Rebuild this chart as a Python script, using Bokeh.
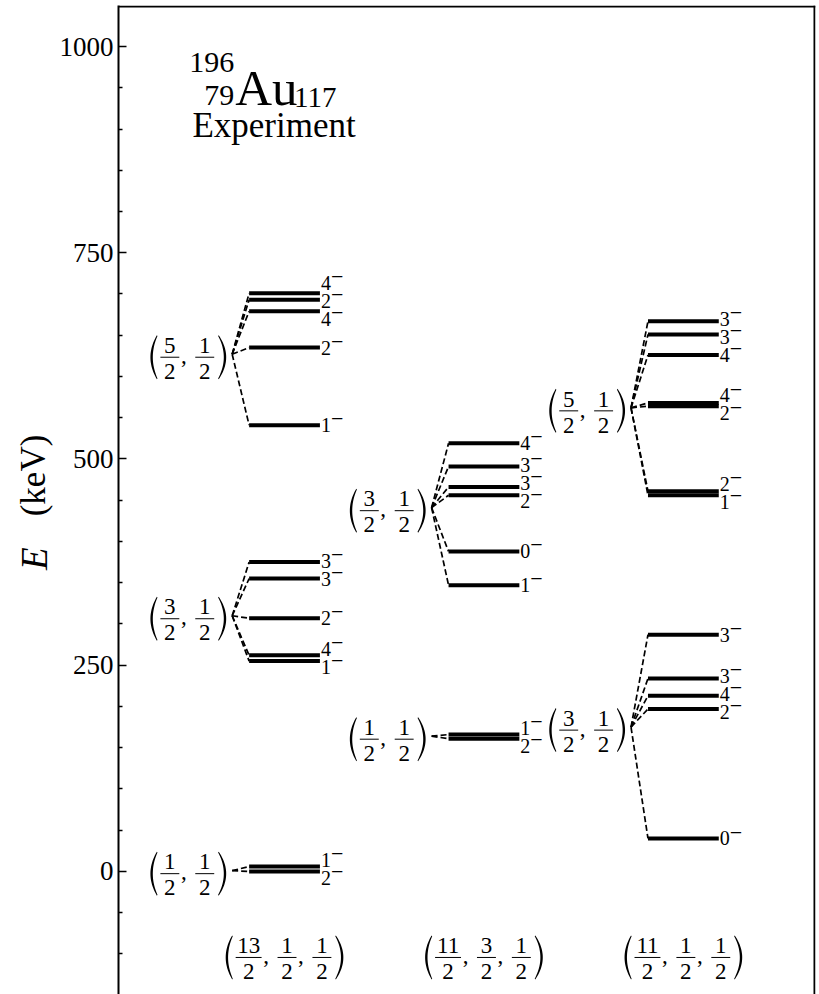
import math
from bokeh.plotting import figure
from bokeh.layouts import row
from bokeh.models import Range1d, FixedTicker, Span
from bokeh.core.properties import value
from bokeh.embed import file_html
from bokeh.resources import INLINE

# ---------------- data ----------------
column_numbers = [["13/2", "1/2", "1/2"], ["11/2", "3/2", "1/2"], ["11/2", "1/2", "1/2"]]
band_column = [0, 0, 0, 1, 1, 2, 2]
band_numbers = [["1/2", "1/2"], ["3/2", "1/2"], ["5/2", "1/2"],
                ["1/2", "1/2"], ["3/2", "1/2"],
                ["3/2", "1/2"], ["5/2", "1/2"]]
band_head = [1, 310, 627, 164, 441, 175, 562]
band_energies = [
    [0, 6],
    [375, 355, 307, 262, 255],
    [701, 693, 679, 635, 541],
    [166, 161],
    [519, 491, 466, 456, 388, 347],
    [287, 234, 213, 197, 40],
    [667, 651, 626, 568, 564, 461, 456],
]
band_spins = [
    [2, 1],
    [3, 3, 2, 4, 1],
    [4, 2, 4, 2, 1],
    [1, 2],
    [4, 3, 3, 2, 0, 1],
    [3, 3, 4, 2, 0],
    [3, 3, 4, 4, 2, 2, 1],
]
y_major_ticks = [0, 250, 500, 750, 1000]
y_minor_ticks = [-100, -50, 50, 100, 150, 200, 300, 350, 400, 450, 550, 600, 650, 700,
                 800, 850, 900, 950]
title_mass, title_z, title_sym, title_n = "196", "79", "Au", "117"
title_sub = "Experiment"
y_label_sym, y_label_unit = "E", "(keV)"

# ---------------- layout ----------------
FONT = "Liberation Serif"
TOTAL_W, H = 819, 994
LW = 56                       # width of the side panel holding the axis title
TOP = 5
AXIS_X = 116                  # page x of the left axis
BORDER_R = 4
W = TOTAL_W - LW
BORDER_L = AXIS_X - LW
FRAME_W = W - BORDER_L - BORDER_R
Y0, Y1 = -149.1, 1049.7
PXK = (H - TOP) / (Y1 - Y0)   # pixels per keV
COL_START = [131, 331, 531]   # x (px from left axis) of level line starts
LINE_LEN = 71
HEAD_GAP = 17
BOTTOM_BAR = -104.2
LABEL_STEP = 18
MID = 0.3375                  # baseline -> middle of text box, in em


def dy(px):
    """screen px (down positive) -> keV delta"""
    return -px / PXK


p = figure(width=W, height=H, x_range=Range1d(0, FRAME_W), y_range=Range1d(Y0, Y1),
           x_axis_type=None, output_backend="svg", toolbar_location=None,
           min_border_left=BORDER_L, min_border_right=BORDER_R,
           min_border_top=TOP, min_border_bottom=0)
p.outline_line_color = None
p.grid.visible = False
p.background_fill_color = "white"
p.border_fill_color = "white"

ax = p.yaxis[0]
ax.ticker = FixedTicker(ticks=y_major_ticks, minor_ticks=y_minor_ticks)
ax.major_tick_in = 8
ax.major_tick_out = 0
ax.minor_tick_in = 4
ax.minor_tick_out = 0
ax.axis_line_width = 2
ax.major_tick_line_width = 1.5
ax.minor_tick_line_width = 1.5
ax.axis_line_color = "black"
ax.major_tick_line_color = "black"
ax.minor_tick_line_color = "black"
ax.major_label_text_font = FONT
ax.major_label_text_font_size = "27px"
ax.major_label_text_color = "black"
ax.major_label_standoff = 5

p.add_layout(Span(location=Y1 + dy(1), dimension="width", line_color="black", line_width=2))
p.add_layout(Span(location=FRAME_W - 1, dimension="height", line_color="black", line_width=2))

texts = {}


def add_text(x, y_base, s, size, align="center", style="normal"):
    """y_base: keV position of the text baseline"""
    y = y_base + dy(-MID * size)
    d = texts.setdefault((size, align, style), {"x": [], "y": [], "text": []})
    d["x"].append(x)
    d["y"].append(y)
    d["text"].append(s)


bars = {"x0": [], "y0": [], "x1": [], "y1": []}
paren_xs, paren_ys = [], []


def paren(xl, xr, ybar, left=True):
    top, bot = -22.0, 22.0
    if left:
        xe, xm, s = xr - 1.5, xl + 1.0, 1
    else:
        xe, xm, s = xl + 1.5, xr - 1.0, -1
    th = 2.4
    n = 24
    pts_x, pts_y = [], []
    for k in range(n + 1):
        t = k / n
        c1 = 2 * xm - xe
        x = (1 - t) ** 2 * xe + 2 * t * (1 - t) * c1 + t ** 2 * xe
        yy = top + (bot - top) * t
        pts_x.append(x)
        pts_y.append(ybar + dy(yy))
    for k in range(n, -1, -1):
        t = k / n
        xe2 = xe + s * 0.6
        c2 = 2 * (xm + s * th) - xe2
        x = (1 - t) ** 2 * xe2 + 2 * t * (1 - t) * c2 + t ** 2 * xe2
        yy = top + 0.8 + (bot - top - 1.6) * t
        pts_x.append(x)
        pts_y.append(ybar + dy(yy))
    paren_xs.append(pts_x)
    paren_ys.append(pts_y)


def frac_width(num):
    return 26 if len(num) > 1 else 19


def group_width(fracs):
    return 11 + sum(frac_width(f.split("/")[0]) for f in fracs) + 16 * (len(fracs) - 1) + 13


def frac_group(left, ybar, fracs):
    paren(left, left + 9, ybar, True)
    x = left + 11
    for i, f in enumerate(fracs):
        num, den = f.split("/")
        w = frac_width(num)
        c = x + w / 2
        bars["x0"].append(x)
        bars["x1"].append(x + w)
        bars["y0"].append(ybar)
        bars["y1"].append(ybar)
        add_text(c, ybar + dy(-4), num, 23)
        add_text(c, ybar + dy(22), den, 23)
        x += w
        if i < len(fracs) - 1:
            add_text(x + 4.5, ybar + dy(6), ",", 23)
            x += 16
    paren(x + 3, x + 13, ybar, False)


def spread(ys, d):
    order = sorted(range(len(ys)), key=lambda i: ys[i])
    clusters = [[i] for i in order]

    def center(c):
        return sum(ys[i] for i in c) / len(c)

    changed = True
    while changed:
        changed = False
        for k in range(len(clusters) - 1):
            a, b = clusters[k], clusters[k + 1]
            a_bot = center(a) + (len(a) - 1) * d / 2
            b_top = center(b) - (len(b) - 1) * d / 2
            if b_top - a_bot < d - 1e-9:
                clusters[k] = a + b
                del clusters[k + 1]
                changed = True
                break
    out = [0.0] * len(ys)
    for c in clusters:
        c0 = center(c) - (len(c) - 1) * d / 2
        for j, i in enumerate(c):
            out[i] = c0 + j * d
    return out


lv = {"x0": [], "x1": [], "y": []}
cn = {"x0": [], "y0": [], "x1": [], "y1": []}
for b in range(len(band_head)):
    col = band_column[b]
    xs = COL_START[col]
    xe = xs + LINE_LEN
    cx = xs - HEAD_GAP
    head = band_head[b]
    for e in band_energies[b]:
        lv["x0"].append(xs)
        lv["x1"].append(xe)
        lv["y"].append(e)
        cn["x0"].append(cx)
        cn["y0"].append(head)
        cn["x1"].append(xs)
        cn["y1"].append(e)
    # spin labels
    px = [(Y1 - e) * PXK for e in band_energies[b]]
    lab = spread(px, LABEL_STEP)
    for e_px, j in zip(lab, band_spins[b]):
        yc = Y1 - e_px / PXK
        add_text(xe + 1, yc + dy(6.7), str(j), 20, "left")
        add_text(xe + 11, yc + dy(1.5), "\u2212", 22, "left")
    # band label
    gw = group_width(band_numbers[b])
    frac_group(cx - 5 - gw, head + dy(3), band_numbers[b])

for col, fr in enumerate(column_numbers):
    cxm = COL_START[col] + LINE_LEN / 2
    gw = group_width(fr)
    frac_group(cxm - gw / 2, BOTTOM_BAR, fr)

p.segment(x0=cn["x0"], y0=cn["y0"], x1=cn["x1"], y1=cn["y1"], line_color="black",
          line_width=1.7, line_dash="6 3")
p.segment(x0=lv["x0"], y0=lv["y"], x1=lv["x1"], y1=lv["y"], line_color="black",
          line_width=4, line_cap="butt")
p.segment(x0=bars["x0"], y0=bars["y0"], x1=bars["x1"], y1=bars["y1"], line_color="black",
          line_width=1)
p.patches(xs=paren_xs, ys=paren_ys, fill_color="black", line_color=None)

# title
add_text(116, 968.5, title_mass, 30, "right")
add_text(116, 928.5, title_z, 30, "right")
add_text(117, 928.5, title_sym, 51, "left")
add_text(176, 926.5, title_n, 29, "left")
add_text(156, 889.7, title_sub, 35, "center")

for (size, align, style), d in texts.items():
    p.text(x=d["x"], y=d["y"], text=d["text"], text_font=value(FONT),
           text_font_size=value(f"{size}px"), text_align=align, text_baseline="middle",
           text_font_style=style, text_color="black")

# side panel with the axis title
side = figure(width=LW, height=H, x_range=Range1d(0, LW), y_range=Range1d(Y0, Y1),
              x_axis_type=None, y_axis_type=None, output_backend="svg",
              toolbar_location=None, min_border_left=0, min_border_right=0,
              min_border_top=TOP, min_border_bottom=0)
side.outline_line_color = None
side.grid.visible = False
side.text(x=[33], y=[480], text=[y_label_unit], angle=math.pi / 2, text_align="center",
          text_baseline="middle", text_font=value(FONT), text_font_size=value("35px"),
          text_color="black")
side.text(x=[34], y=[379], text=[y_label_sym], angle=math.pi / 2, text_align="center",
          text_baseline="middle", text_font=value(FONT), text_font_size=value("37px"),
          text_font_style="italic", text_color="black")

layout = row(side, p, spacing=0)
open("out.html", "w").write(file_html(layout, INLINE))
